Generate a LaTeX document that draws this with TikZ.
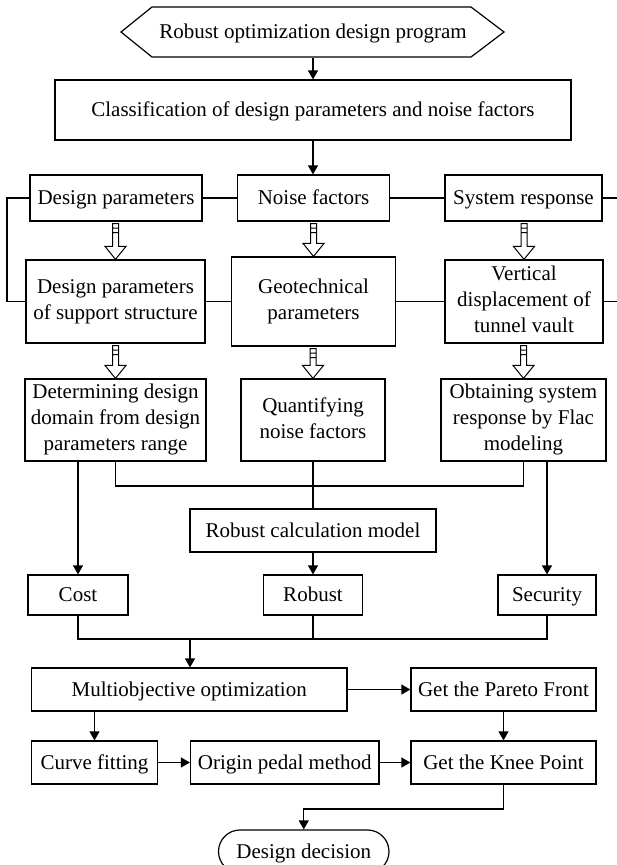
\documentclass[tikz,border=0pt]{standalone}
\usepackage{fontspec}
\setmainfont{Liberation Serif}
\usetikzlibrary{arrows.meta,calc}
\newcommand{\mystrut}{\rule[-4.6pt]{0pt}{22.6pt}}
\newcommand{\harrow}[2]{%
 \draw[line width=1pt] let \p1=(#1.south), \p2=(#2.north) in
  (\x2-3pt,\y1-2pt) -- (\x2+3pt,\y1-2pt) -- (\x2+3pt,\y2+13pt) -- (\x2+10.5pt,\y2+13pt) -- (\x2,\y2) -- (\x2-10.5pt,\y2+13pt) -- (\x2-3pt,\y2+13pt) -- cycle
  (\x2-3pt,\y1-6.5pt) -- (\x2+3pt,\y1-6.5pt)
  (\x2-3pt,\y1-11pt) -- (\x2+3pt,\y1-11pt);
}
\begin{document}
\begin{tikzpicture}[x=1pt,y=-1pt,line width=1.2pt,
  bx/.style={draw,rectangle,inner sep=0pt,align=center,
    font=\fontsize{21}{26}\selectfont,
    execute at begin node=\mystrut, execute at end node=\mystrut},
  arr/.style={-{Triangle[length=9pt,width=10pt]}}]
\fill[white] (0,0) rectangle (617,865);
\useasboundingbox (0,0) rectangle (617,865);

% start hexagon
\draw (121,32) -- (152,7) -- (471,7) -- (504,32) -- (471,57) -- (152,57) -- cycle;
\node[bx,draw=none,minimum width=383pt,minimum height=50pt] (start) at (313,32) {Robust optimization design program};

\node[bx,minimum width=516pt,minimum height=60pt] (cls) at (313,110) {Classification of design parameters and noise factors};

% row 1
\node[bx,minimum width=172pt,minimum height=46pt] (dp1) at (116,198) {Design parameters};
\node[bx,minimum width=152pt,minimum height=46pt] (nf1) at (313.5,198) {Noise factors};
\node[bx,minimum width=157pt,minimum height=46pt] (sr1) at (523.5,198) {System response};

% row 2
\node[bx,minimum width=179pt,minimum height=83pt] (dp2) at (115.5,301.5) {Design parameters\\of support structure};
\node[bx,minimum width=164.5pt,minimum height=89pt] (geo) at (313.5,301.5) {Geotechnical\\parameters};
\node[bx,minimum width=158pt,minimum height=83pt] (vd) at (524,301.5) {Vertical\\displacement of\\tunnel vault};

% row 3
\node[bx,minimum width=181pt,minimum height=82pt] (det) at (115.5,420) {Determining design\\domain from design\\parameters range};
\node[bx,minimum width=144pt,minimum height=82pt] (qnf) at (313,420) {Quantifying\\noise factors};
\node[bx,minimum width=165pt,minimum height=82pt] (obt) at (523.5,420) {Obtaining system\\response by Flac\\modeling};

\node[bx,minimum width=246pt,minimum height=43pt] (rcm) at (313,530.5) {Robust calculation model};

% row 5
\node[bx,minimum width=100pt,minimum height=40pt] (cost) at (78,595) {Cost};
\node[bx,minimum width=99pt,minimum height=40pt] (rob) at (313,595) {Robust};
\node[bx,minimum width=98pt,minimum height=40pt] (sec) at (547,595) {Security};

% row 6
\node[bx,minimum width=315.5pt,minimum height=43pt] (mo) at (189.25,689.5) {Multiobjective optimization};
\node[bx,minimum width=185pt,minimum height=43pt] (pf) at (503.5,689.5) {Get the Pareto Front};

% row 7
\node[bx,minimum width=126pt,minimum height=43pt] (cf) at (94.5,762.5) {Curve fitting};
\node[bx,minimum width=188.5pt,minimum height=43pt] (opm) at (284.75,762.5) {Origin pedal method};
\node[bx,minimum width=185pt,minimum height=43pt] (knee) at (503.5,762.5) {Get the Knee Point};

\node[bx,rounded corners=21.5pt,minimum width=170.5pt,minimum height=43pt] (dd) at (303.75,851.5) {Design decision};

% helper coordinates
\coordinate (le1) at (7,198);
\coordinate (re1) at (617,198);
\coordinate (re2) at (617,301.5);
\coordinate (j1) at (313,486);
\coordinate (j2) at (190,639);
\coordinate (j3) at (304,809);

% connectors
\draw[arr] (start.south) -- (start.south |- cls.north);
\draw[arr] (cls.south) -- (cls.south |- nf1.north);

\draw (dp1.east) -- (nf1.west) (nf1.east) -- (sr1.west) (sr1.east) -- (re1);
\draw (dp2.east) -- (geo.west) (geo.east) -- (vd.west) (vd.east) -- (re2);
\draw (dp1.west) -- (dp1.west -| le1) -- (dp2.west -| le1) -- (dp2.west);

\harrow{dp1}{dp2}
\harrow{nf1}{geo}
\harrow{sr1}{vd}
\harrow{dp2}{det}
\harrow{geo}{qnf}
\harrow{vd}{obt}

\draw[arr] (det.south -| cost.north) -- (cost.north);
\draw (det.south) -- (det.south |- j1) -- (obt.south |- j1) -- (obt.south);
\draw (qnf.south) -- (qnf.south |- rcm.north);
\draw[arr] (obt.south -| sec.north) -- (sec.north);
\draw[arr] (rcm.south) -- (rcm.south |- rob.north);

\draw (cost.south) -- (cost.south |- j2) -- (sec.south |- j2) -- (sec.south);
\draw (rob.south) -- (rob.south |- j2);
\draw[arr] (j2) -- (j2 |- mo.north);

\draw[arr] (mo.east) -- (pf.west);
\draw[arr] (mo.south -| cf.north) -- (cf.north);
\draw[arr] (pf.south) -- (knee.north);
\draw[arr] (cf.east) -- (opm.west);
\draw[arr] (opm.east) -- (knee.west);
\draw[arr] (knee.south) -- (knee.south |- j3) -- (dd.north |- j3) -- (dd.north);
\end{tikzpicture}
\end{document}
